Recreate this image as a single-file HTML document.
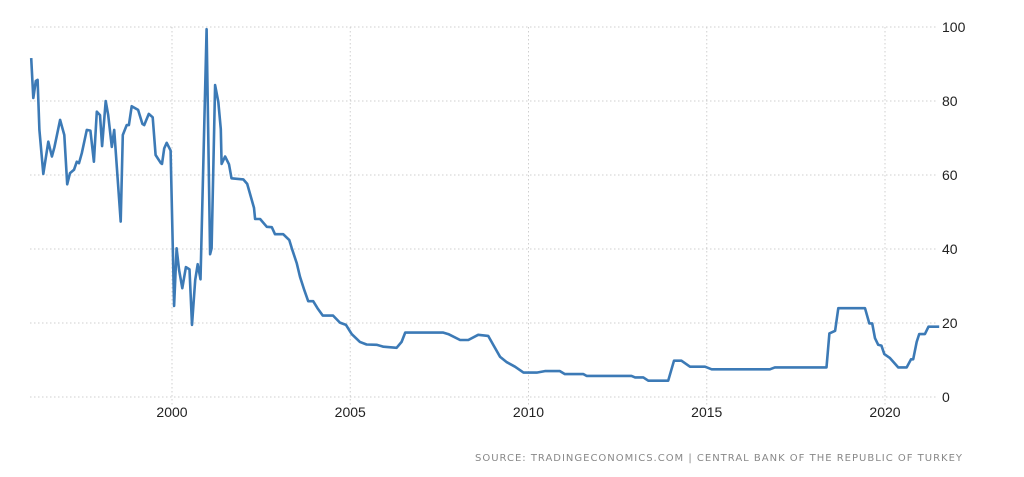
<!DOCTYPE html>
<html><head><meta charset="utf-8"><style>
html,body{margin:0;padding:0;background:#fff;}
svg{display:block;font-family:"Liberation Sans",sans-serif;}
</style></head><body>
<svg id="chart" width="1024" height="477" viewBox="0 0 1024 477" xmlns="http://www.w3.org/2000/svg">
<g id="grid"></g>
<g id="xaxis"></g>
<g id="yaxis"></g>
<path id="line" fill="none" stroke="#3c7ab6" stroke-width="2.6" stroke-linejoin="round"/>
<text x="475" y="461" font-family="'DejaVu Sans',sans-serif" font-size="10" fill="#888" textLength="487" lengthAdjust="spacing">SOURCE: TRADINGECONOMICS.COM | CENTRAL BANK OF THE REPUBLIC OF TURKEY</text>
</svg>
<script>
const years = [1996.05,1996.11,1996.18,1996.23,1996.28,1996.39,1996.53,1996.63,1996.7,1996.86,1996.98,1997.06,1997.14,1997.25,1997.33,1997.39,1997.47,1997.61,1997.71,1997.81,1997.89,1997.98,1998.04,1998.14,1998.21,1998.31,1998.38,1998.56,1998.62,1998.73,1998.79,1998.87,1999.05,1999.17,1999.22,1999.35,1999.46,1999.54,1999.69,1999.72,1999.78,1999.85,1999.96,2000.06,2000.13,2000.2,2000.29,2000.39,2000.49,2000.56,2000.65,2000.72,2000.8,2000.97,2001.07,2001.11,2001.21,2001.3,2001.37,2001.39,2001.49,2001.6,2001.67,2002.0,2002.11,2002.3,2002.33,2002.47,2002.66,2002.8,2002.89,2003.12,2003.29,2003.36,2003.5,2003.59,2003.71,2003.82,2003.96,2004.08,2004.23,2004.52,2004.71,2004.88,2005.04,2005.27,2005.46,2005.74,2005.93,2006.3,2006.44,2006.54,2007.61,2007.75,2008.08,2008.31,2008.59,2008.87,2009.01,2009.2,2009.39,2009.62,2009.86,2010.23,2010.46,2010.88,2011.02,2011.54,2011.63,2012.89,2012.99,2013.22,2013.36,2013.92,2014.08,2014.29,2014.53,2014.95,2015.14,2016.77,2016.91,2018.36,2018.44,2018.6,2018.69,2019.44,2019.56,2019.64,2019.72,2019.81,2019.9,2019.98,2020.14,2020.37,2020.61,2020.73,2020.79,2020.89,2020.96,2021.12,2021.22,2021.52];
const rates = [91.6,80.8,85.4,85.7,72.2,60.3,69,65,67.5,74.9,70.8,57.5,60.5,61.4,63.6,63.2,65.9,72.2,72,63.6,77.1,76.2,67.8,80,76.2,67.6,72.2,47.4,70.8,73.5,73.5,78.6,77.6,73.8,73.5,76.5,75.6,65.4,63.2,63,67.2,68.7,66.6,24.6,40.2,34.3,29.4,35.1,34.5,19.5,31.6,35.9,31.8,99.4,38.6,40.2,84.3,79.8,72.4,63,65,62.9,59.1,58.8,57.6,51.1,48.1,48.1,46,45.9,44,44,42.4,40.2,36.1,32.5,28.9,25.9,25.9,24,22,22,20.1,19.5,17,14.9,14.2,14.1,13.6,13.3,14.9,17.4,17.4,17,15.4,15.4,16.8,16.5,14.1,10.9,9.4,8.2,6.6,6.6,7,7,6.2,6.2,5.7,5.7,5.3,5.3,4.4,4.4,9.8,9.8,8.2,8.2,7.5,7.5,8,8,17.2,17.9,24,24,19.9,19.9,15.9,14.1,13.9,11.6,10.5,8,8,10.2,10.2,14.9,17,17,19,19];
const yTicks = [0,20,40,60,80,100];
const xTicks = [2000,2005,2010,2015,2020];

const NS="http://www.w3.org/2000/svg";
const xs = y => 172 + (y-2000)*35.65;
const ys = v => 397 - v*3.7;
const grid=document.getElementById('grid'), xa=document.getElementById('xaxis'), ya=document.getElementById('yaxis');
function mk(tag,attrs,parent){const e=document.createElementNS(NS,tag);for(const k in attrs)e.setAttribute(k,attrs[k]);parent.appendChild(e);return e;}
yTicks.forEach(t=>{
  const l=mk('line',{x1:30,x2:936,y1:ys(t),y2:ys(t),stroke:'#cfcfcf','stroke-dasharray':'1.5,2.5'},grid);
  
  
  const tx=mk('text',{x:942,y:ys(t)+5,'font-size':14,fill:'#222'},ya);
  
  
  tx.textContent=t;
});
xTicks.forEach(t=>{
  const l=mk('line',{x1:xs(t),x2:xs(t),y1:ys(100),y2:405,stroke:'#cfcfcf','stroke-dasharray':'1.5,2.5'},grid);
  
  
  const tx=mk('text',{x:xs(t),y:417,'font-size':14,fill:'#222','text-anchor':'middle'},xa);
  
  
  tx.textContent=t;
});
document.getElementById('line').setAttribute('d',years.map((y,i)=>(i?'L':'M')+xs(y).toFixed(1)+','+ys(rates[i]).toFixed(1)).join(''));
</script>
</body></html>
